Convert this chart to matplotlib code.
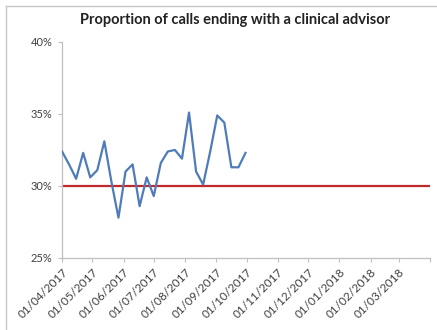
import matplotlib
matplotlib.use("Agg")
import matplotlib.pyplot as plt
from matplotlib.ticker import FuncFormatter, MultipleLocator
import pandas as pd

plt.rcParams['font.family'] = ['Lato', 'DejaVu Sans']

# Weekly proportion of calls ending with a clinical advisor (%)
week_start = "2017-04-01"
proportion = [32.4, 31.5, 30.5, 32.3, 30.6, 31.1, 33.1, 30.3, 27.8, 31.0,
              31.5, 28.6, 30.6, 29.3, 31.6, 32.4, 32.5, 31.9, 35.1, 31.0,
              30.1, 32.4, 34.9, 34.4, 31.3, 31.3, 32.3]
target = 30.0
month_labels = ["01/04/2017", "01/05/2017", "01/06/2017", "01/07/2017",
                "01/08/2017", "01/09/2017", "01/10/2017", "01/11/2017",
                "01/12/2017", "01/01/2018", "01/02/2018", "01/03/2018"]
title = "Proportion of calls ending with a clinical advisor"

weeks = pd.date_range(week_start, periods=len(proportion), freq="7D")
months = pd.to_datetime(month_labels, format="%d/%m/%Y")
x_end = pd.Timestamp("2018-04-01")

fig = plt.figure(figsize=(4.37, 3.30), dpi=100)
ax = fig.add_axes([62 / 437, 1 - 258 / 330, 368 / 437, 216 / 330])

ax.axhline(target, color="#C0282B", lw=1.6, zorder=2)
ax.plot(weeks, proportion, color="#4F7CB8", lw=1.6, zorder=3)

ax.set_xlim(months[0], x_end)
ax.set_ylim(25, 40)
ax.yaxis.set_major_locator(MultipleLocator(5))
ax.yaxis.set_major_formatter(FuncFormatter(lambda v, _: f"{v:.0f}%"))

ax.set_xticks(list(months) + [x_end])
ax.set_xticklabels(month_labels + [""], rotation=45, ha="right",
                   rotation_mode="anchor", fontsize=8.5, color="#404040")
ax.tick_params(axis="x", length=3, color="#BFBFBF", pad=3)
ax.tick_params(axis="y", length=3, color="#BFBFBF", labelsize=8,
               labelcolor="#404040", pad=4)

for side in ("top", "right"):
    ax.spines[side].set_visible(False)
for side in ("left", "bottom"):
    ax.spines[side].set_color("#BFBFBF")
    ax.spines[side].set_linewidth(0.9)

fig.text(235 / 437, 1 - 20 / 330, title, ha="center", va="center",
         fontsize=10.5, fontweight="bold", color="#222222")

# chart frame along the top and left edges
fig.add_artist(plt.Line2D([6 / 437, 6 / 437], [0, 1 - 6 / 330],
                          transform=fig.transFigure, color="#C8C8C8", lw=1))
fig.add_artist(plt.Line2D([6 / 437, 1], [1 - 6 / 330, 1 - 6 / 330],
                          transform=fig.transFigure, color="#C8C8C8", lw=1))

fig.savefig("out.png", dpi=100)
